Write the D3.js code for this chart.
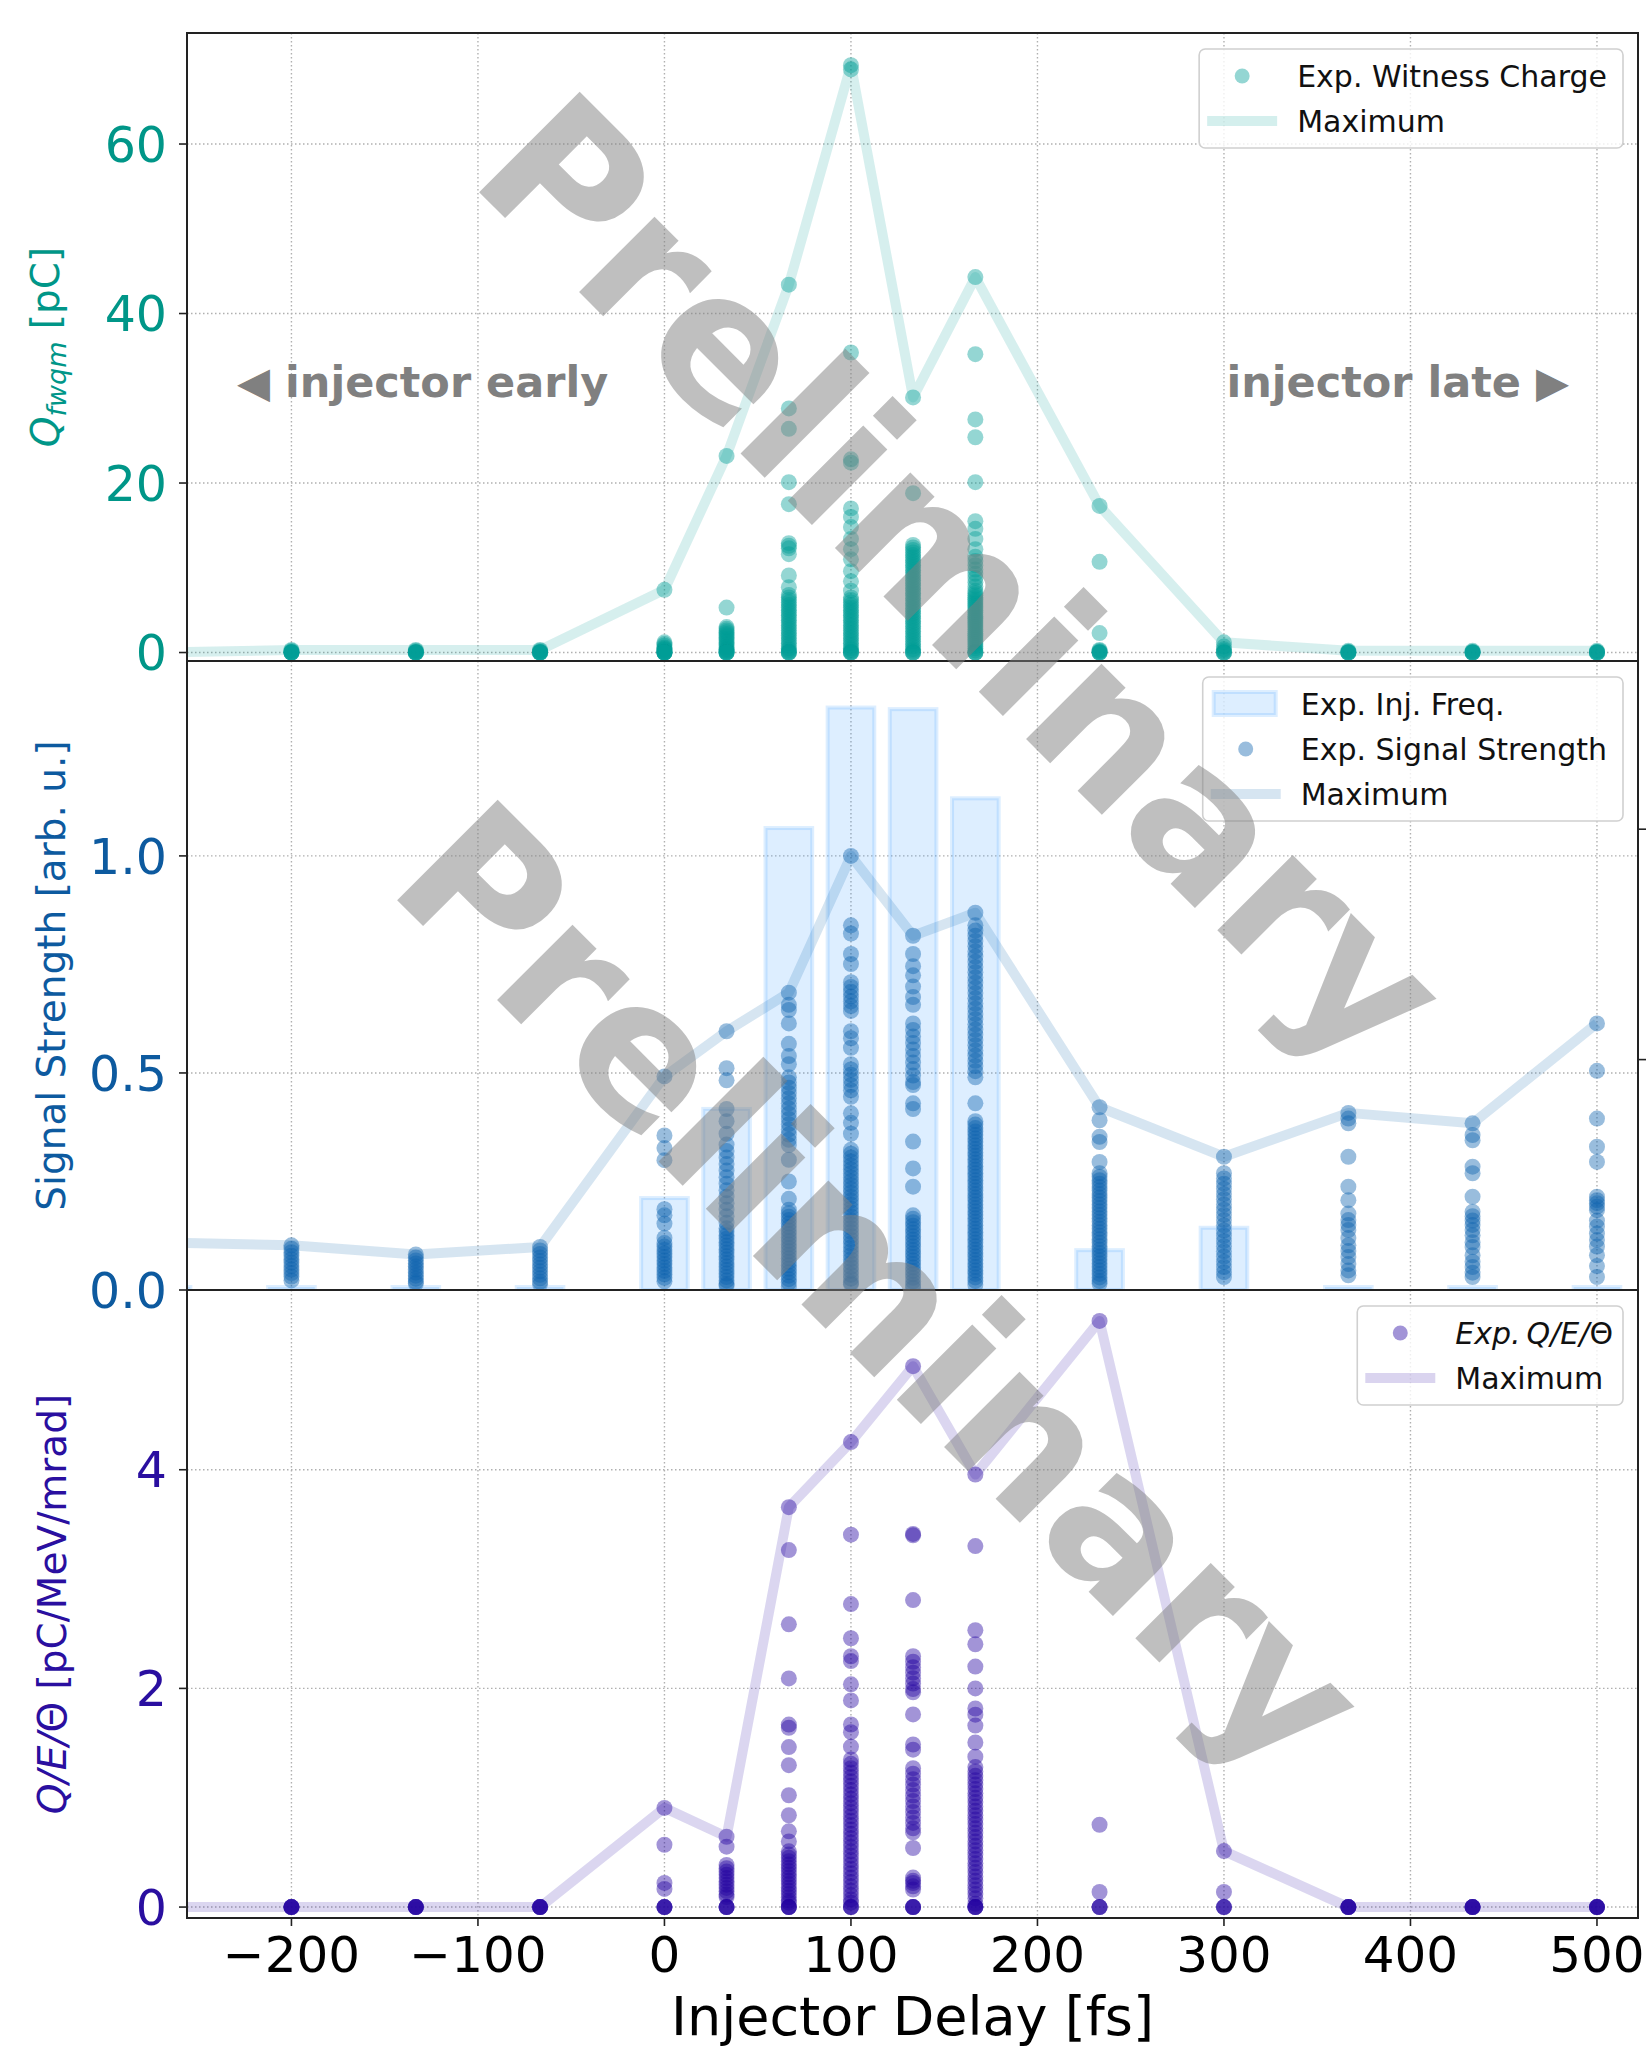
<!doctype html>
<html lang="en">
<head>
<meta charset="utf-8">
<title>Injector delay scan</title>
<style>
  body { margin: 0; background: #fff; }
  svg { display: block; font-family: "DejaVu Sans", sans-serif; }
</style>
</head>
<body>
<script src="https://cdn.jsdelivr.net/npm/d3@7/dist/d3.min.js"></script>
<script>

// delay steps in fs (the first one sits just left of the visible range)
var delays = [-266.7, -200, -133.3, -66.7, 0, 33.3, 66.7, 100, 133.3, 166.7, 233.3, 300, 366.7, 433.3, 500];

// witness charge per shot [pC], one list per delay
var chargeShots = [
  [0],
  [0.3, 0.2, 0.1, 0, 0, 0, 0, 0],
  [0.3, 0.2, 0.1, 0, 0, 0, 0, 0],
  [0.3, 0.2, 0.1, 0, 0, 0, 0, 0],
  [7.4, 1.2, 1.0, 0.8, 0.6, 0.5, 0.4, 0.3, 0.2, 0.1, 0, 0, 0, 0, 0, 0],
  [23.2, 5.3, 3.0, 2.8, 2.6, 2.4, 2.2, 2.0, 1.8, 1.6, 1.4, 1.2, 1.0, 0.8, 0.6, 0.4, 0.3, 0.2, 0.1, 0, 0, 0, 0],
  [43.4, 28.8, 26.4, 20.1, 17.5, 12.9, 12.6, 12.3, 11.6, 9.1, 7.7,
   6.8, 6.5, 6.2, 5.9, 5.6, 5.3, 5.0, 4.7, 4.4, 4.1, 3.8, 3.5, 3.2, 2.9, 2.6, 2.3, 2.0, 1.7, 1.4, 1.1, 0.8, 0.5, 0.3, 0.1, 0, 0, 0],
  [69.3, 68.8, 35.4, 22.8, 22.4, 17.0, 16.0, 14.8, 13.4, 12.2, 11.0, 9.6, 8.4, 7.3,
   6.5, 6.2, 5.9, 5.6, 5.3, 5.0, 4.7, 4.4, 4.1, 3.8, 3.5, 3.2, 2.9, 2.6, 2.3, 2.0, 1.7, 1.4, 1.1, 0.8, 0.5, 0.3, 0.1, 0, 0, 0],
  [30.1, 18.8,
   12.7, 12.4, 12.1, 11.8, 11.5, 11.2, 10.9, 10.6, 10.3, 10.0, 9.7, 9.4, 9.1, 8.8, 8.5, 8.2, 7.9, 7.6, 7.3, 7.0,
   6.7, 6.4, 6.1, 5.8, 5.5, 5.2, 4.9, 4.6, 4.3, 4.0, 3.7, 3.4, 3.1, 2.8, 2.5, 2.2, 1.9, 1.6, 1.3, 1.0, 0.7, 0.4, 0.2, 0, 0, 0],
  [44.3, 35.2, 27.5, 25.4, 20.1, 15.5, 14.6, 13.4, 12.2,
   11.3, 10.8, 10.3, 9.8, 9.3, 8.8, 8.3, 7.8, 7.3, 7.0,
   6.75, 6.5, 6.25, 6.0, 5.75, 5.5, 5.25, 5.0, 4.75, 4.5, 4.25, 4.0, 3.75, 3.5, 3.25, 3.0, 2.75, 2.5, 2.25, 2.0,
   1.75, 1.5, 1.25, 1.0, 0.75, 0.5, 0.25, 0, 0, 0],
  [17.3, 10.7, 2.3, 0.3, 0.2, 0.1, 0, 0, 0],
  [1.2, 0.7, 0.4, 0.2, 0, 0, 0],
  [0.2, 0.1, 0, 0, 0, 0],
  [0.2, 0.1, 0, 0, 0, 0],
  [0.2, 0.1, 0, 0, 0, 0]
];

// signal strength per shot [arb. u.]
var signalShots = [
  [0.109],
  [0.103, 0.095, 0.087, 0.079, 0.071, 0.063, 0.055, 0.047, 0.039, 0.031, 0.022],
  [0.082, 0.075, 0.068, 0.061, 0.054, 0.047, 0.040, 0.033, 0.026, 0.019, 0.015],
  [0.099, 0.091, 0.083, 0.075, 0.067, 0.059, 0.051, 0.043, 0.035, 0.027, 0.019, 0.013],
  [0.492, 0.356, 0.327, 0.299, 0.186, 0.172, 0.153, 0.120,
   0.108, 0.100, 0.092, 0.084, 0.076, 0.068, 0.060, 0.052, 0.044, 0.036, 0.028, 0.020],
  [0.596, 0.511, 0.483, 0.417, 0.389, 0.360,
   0.335, 0.320, 0.305, 0.290, 0.275, 0.260, 0.245, 0.230, 0.215, 0.200, 0.185, 0.170, 0.155,
   0.142, 0.134, 0.126, 0.118, 0.110, 0.102, 0.094, 0.086, 0.078, 0.070, 0.062, 0.054, 0.046, 0.038, 0.030, 0.022, 0.014, 0.010],
  [0.685, 0.657, 0.645, 0.614, 0.567, 0.539, 0.520,
   0.490, 0.478, 0.466, 0.454, 0.442, 0.430, 0.418, 0.406, 0.394, 0.382, 0.370, 0.358, 0.346, 0.334, 0.300, 0.250, 0.210,
   0.185, 0.177, 0.169, 0.161, 0.153, 0.145, 0.137, 0.129, 0.121, 0.113, 0.105, 0.097, 0.089, 0.081, 0.073, 0.065,
   0.057, 0.049, 0.041, 0.033, 0.025, 0.017, 0.008],
  [1.0, 0.840, 0.821, 0.774, 0.751,
   0.709, 0.698, 0.687, 0.676, 0.665, 0.654, 0.643, 0.596, 0.580, 0.558,
   0.520, 0.508, 0.496, 0.484, 0.472, 0.460, 0.445, 0.407, 0.385, 0.360,
   0.323, 0.314, 0.305, 0.296, 0.287, 0.278, 0.269, 0.260, 0.251, 0.242, 0.233, 0.224, 0.215, 0.206, 0.197, 0.188,
   0.179, 0.170, 0.161, 0.152, 0.143, 0.134, 0.125, 0.116, 0.107, 0.098, 0.089, 0.080, 0.071, 0.062, 0.053, 0.044,
   0.035, 0.026, 0.017, 0.013],
  [0.816, 0.774, 0.746, 0.725, 0.699, 0.675, 0.657,
   0.614, 0.599, 0.584, 0.569, 0.554, 0.539, 0.524, 0.509, 0.494, 0.479, 0.472, 0.430, 0.417, 0.342, 0.280, 0.238,
   0.172, 0.164, 0.156, 0.148, 0.140, 0.132, 0.124, 0.116, 0.108, 0.100, 0.092, 0.084, 0.076, 0.068, 0.060, 0.052,
   0.044, 0.036, 0.028, 0.020, 0.012, 0.005],
  [0.869, 0.840, 0.828, 0.816, 0.804, 0.792, 0.780, 0.768, 0.756, 0.744, 0.732, 0.720, 0.708, 0.696, 0.684, 0.672,
   0.660, 0.648, 0.636, 0.624, 0.612, 0.600, 0.588, 0.576, 0.564, 0.552, 0.540, 0.528, 0.516, 0.504, 0.490, 0.430,
   0.389, 0.381, 0.373, 0.365, 0.357, 0.349, 0.341, 0.333, 0.325, 0.317, 0.309, 0.301, 0.293, 0.285, 0.277, 0.269,
   0.261, 0.253, 0.245, 0.237, 0.229, 0.221, 0.213, 0.205, 0.197, 0.189, 0.181, 0.173, 0.165, 0.157, 0.149, 0.141,
   0.133, 0.125, 0.117, 0.109, 0.101, 0.093, 0.085, 0.077, 0.069, 0.061, 0.053, 0.045, 0.037, 0.029, 0.021, 0.012],
  [0.421, 0.391, 0.353, 0.341, 0.295,
   0.269, 0.261, 0.253, 0.245, 0.237, 0.229, 0.221, 0.213, 0.205, 0.197, 0.189, 0.181, 0.173, 0.165, 0.157, 0.149,
   0.141, 0.133, 0.125, 0.117, 0.109, 0.101, 0.093, 0.085, 0.077, 0.069, 0.061, 0.053, 0.045, 0.037, 0.029, 0.021, 0.015],
  [0.307, 0.269, 0.257, 0.245, 0.233, 0.221, 0.209, 0.197, 0.185, 0.173, 0.161, 0.149, 0.137, 0.125, 0.113, 0.101,
   0.089, 0.077, 0.065, 0.053, 0.041, 0.030],
  [0.408, 0.395, 0.384, 0.307, 0.238, 0.207, 0.176, 0.161, 0.150, 0.138, 0.120, 0.103, 0.090, 0.076, 0.060, 0.045, 0.034],
  [0.384, 0.357, 0.345, 0.284, 0.269, 0.215, 0.180, 0.170, 0.160, 0.150, 0.138, 0.126, 0.110, 0.099, 0.080, 0.065, 0.053, 0.040, 0.030],
  [0.614, 0.505, 0.395, 0.330, 0.295, 0.215, 0.207, 0.200, 0.192, 0.184, 0.160, 0.146, 0.130, 0.115, 0.100, 0.080, 0.055, 0.030]
];

// Q/E/Theta per shot [pC/MeV/mrad]
var qetShots = [
  [0],
  [0, 0, 0, 0, 0],
  [0, 0, 0, 0, 0],
  [0, 0, 0, 0, 0],
  [0.907, 0.570, 0.221, 0.166, 0, 0, 0, 0],
  [0.643, 0.552, 0.385, 0.355, 0.325, 0.295, 0.265, 0.235, 0.205, 0.175, 0.145, 0.115, 0.092, 0, 0, 0, 0],
  [3.658, 3.265, 2.586, 2.091, 1.669, 1.640, 1.463, 1.298, 1.023, 0.840, 0.693, 0.600,
   0.510, 0.480, 0.450, 0.420, 0.390, 0.360, 0.330, 0.300, 0.270, 0.240, 0.210, 0.180, 0.150, 0.120, 0.090, 0.060, 0.040,
   0, 0, 0, 0],
  [4.253, 3.406, 2.771, 2.459, 2.294, 2.250, 2.037, 1.890, 1.670, 1.600, 1.467,
   1.350, 1.310, 1.270, 1.230, 1.190, 1.150, 1.110, 1.070, 1.030, 0.990, 0.950, 0.910, 0.870, 0.830, 0.790, 0.750,
   0.710, 0.670, 0.630, 0.590, 0.550, 0.510, 0.470, 0.430, 0.390, 0.350, 0.310, 0.270, 0.230, 0.190, 0.150, 0.110,
   0.070, 0.040, 0, 0, 0],
  [4.947, 3.413, 3.400, 2.808, 2.294, 2.244, 2.194, 2.144, 2.094, 2.044, 1.994, 1.964, 1.762, 1.487, 1.440,
   1.270, 1.220, 1.170, 1.120, 1.070, 1.020, 0.970, 0.920, 0.870, 0.820, 0.770, 0.720, 0.684, 0.540,
   0.270, 0.240, 0.220, 0.190, 0.160, 0, 0, 0, 0],
  [3.956, 3.302, 2.532, 2.404, 2.200, 2.000, 1.816, 1.760, 1.660, 1.505, 1.376,
   1.280, 1.240, 1.200, 1.160, 1.120, 1.080, 1.040, 1.000, 0.960, 0.920, 0.880, 0.840, 0.800, 0.760, 0.720, 0.680,
   0.640, 0.600, 0.560, 0.520, 0.480, 0.440, 0.400, 0.360, 0.320, 0.280, 0.240, 0.200, 0.160, 0.120, 0.080, 0.030,
   0, 0, 0, 0],
  [5.361, 0.753, 0.138, 0, 0, 0],
  [0.512, 0.138, 0, 0, 0],
  [0, 0, 0, 0, 0],
  [0, 0, 0, 0, 0],
  [0, 0, 0, 0, 0]
];

// injection frequency per delay (right axis of the middle panel)
var injFreq = [0.013, 0.013, 0.013, 0.013, 0.399, 0.786, 2.005, 2.528, 2.521, 2.134, 0.173, 0.270, 0.013, 0.013, 0.013];

var xTicks = [-200, -100, 0, 100, 200, 300, 400, 500];
var chargeTicks = [0, 20, 40, 60];
var signalTicks = [0.0, 0.5, 1.0];
var qetTicks = [0, 2, 4];
var freqTicks = [1, 2];


var W = 1646, H = 2049;
var left = 187, right = 1638;

var svg = d3.select("body").append("svg")
  .attr("width", W)
  .attr("height", H);

var x = d3.scaleLinear().domain([-256, 522]).range([left, right]);

var panels = [
  { id: "charge", top: 33, bottom: 661, domain: [-1, 73.1], ticks: chargeTicks, shots: chargeShots,
    color: "#009e96", tickColor: "#009688", fmt: d3.format("d"), labelX: 59,
    legend: [{ type: "dot", text: "Exp. Witness Charge" }, { type: "line", text: "Maximum" }] },
  { id: "signal", top: 661, bottom: 1290, domain: [0, 1.449], ticks: signalTicks, shots: signalShots,
    color: "#0b62ad", tickColor: "#0d5a9f", fmt: d3.format(".1f"), labelX: 65,
    legend: [{ type: "bar", text: "Exp. Inj. Freq." }, { type: "dot", text: "Exp. Signal Strength" }, { type: "line", text: "Maximum" }] },
  { id: "qet", top: 1290, bottom: 1918, domain: [-0.1, 5.644], ticks: qetTicks, shots: qetShots,
    color: "#2200a0", tickColor: "#2a0fa0", fmt: d3.format("d"), labelX: 66,
    legend: [{ type: "dot", text: "qet" }, { type: "line", text: "Maximum" }] }
];

var barColor = "#1e90ff";

// flatten shots into points
function points(shots) {
  var out = [];
  shots.forEach(function(list, i) {
    list.forEach(function(v) { out.push({ d: delays[i], v: v }); });
  });
  return out;
}

panels.forEach(function(p) {
  var y = d3.scaleLinear().domain(p.domain).range([p.bottom, p.top]);
  p.y = y;

  svg.append("clipPath").attr("id", "clip-" + p.id)
    .append("rect")
    .attr("x", left).attr("y", p.top)
    .attr("width", right - left).attr("height", p.bottom - p.top);

  // grid
  var grid = svg.append("g")
    .attr("stroke", "#b0b0b0")
    .attr("stroke-width", 1.4)
    .attr("stroke-dasharray", "1.5,2.5");
  grid.selectAll(".gx").data(xTicks).enter().append("line")
    .attr("x1", function(d){ return x(d); }).attr("x2", function(d){ return x(d); })
    .attr("y1", p.top).attr("y2", p.bottom);
  grid.selectAll(".gy").data(p.ticks).enter().append("line")
    .attr("x1", left).attr("x2", right)
    .attr("y1", function(d){ return y(d); }).attr("y2", function(d){ return y(d); });

  var g = svg.append("g").attr("clip-path", "url(#clip-" + p.id + ")");

  if (p.id === "signal") {
    var yF = d3.scaleLinear().domain([0, 2.73]).range([p.bottom, p.top]);
    p.yF = yF;
    g.selectAll(".bar").data(injFreq).enter().append("rect")
      .attr("x", function(d, i){ return x(delays[i] - 12.5); })
      .attr("width", function(d, i){ return x(delays[i] + 12.5) - x(delays[i] - 12.5); })
      .attr("y", function(d){ return yF(d); })
      .attr("height", function(d){ return p.bottom - yF(d); })
      .attr("fill", barColor).attr("fill-opacity", 0.15)
      .attr("stroke", barColor).attr("stroke-opacity", 0.15)
      .attr("stroke-width", 4);
  }

  // maximum line
  var maxima = p.shots.map(function(list, i){ return { d: delays[i], v: d3.max(list) }; });
  var line = d3.line()
    .x(function(d){ return x(d.d); })
    .y(function(d){ return y(d.v); });
  g.append("path")
    .datum(maxima)
    .attr("d", line)
    .attr("fill", "none")
    .attr("stroke", p.color)
    .attr("stroke-opacity", p.id === "signal" ? 0.17 : 0.16)
    .attr("stroke-width", 10)
    .attr("stroke-linejoin", "round");

  g.selectAll(".dot").data(points(p.shots)).enter().append("circle")
    .attr("cx", function(d){ return x(d.d); })
    .attr("cy", function(d){ return y(d.v); })
    .attr("r", 8)
    .attr("fill", p.color)
    .attr("fill-opacity", 0.42);

  // left ticks
  var ax = svg.append("g");
  ax.selectAll(".tk").data(p.ticks).enter().append("line")
    .attr("x1", left - 8).attr("x2", left)
    .attr("y1", function(d){ return y(d); }).attr("y2", function(d){ return y(d); })
    .attr("stroke", "#222").attr("stroke-width", 1.6);
  ax.selectAll(".tl").data(p.ticks).enter().append("text")
    .attr("x", 167)
    .attr("y", function(d){ return y(d); })
    .attr("dy", "0.36em")
    .attr("text-anchor", "end")
    .attr("font-size", 49)
    .attr("fill", p.tickColor)
    .text(p.fmt);

  if (p.id === "signal") {
    ax.selectAll(".rt").data(freqTicks).enter().append("line")
      .attr("x1", right).attr("x2", right + 8)
      .attr("y1", function(d){ return p.yF(d); }).attr("y2", function(d){ return p.yF(d); })
      .attr("stroke", "#222").attr("stroke-width", 1.6);
  }

  // y label
  var lab = svg.append("text")
    .attr("transform", "translate(" + p.labelX + "," + ((p.top + p.bottom) / 2) + ") rotate(-90)")
    .attr("text-anchor", "middle")
    .attr("font-size", 39)
    .attr("fill", p.tickColor);
  if (p.id === "charge") {
    lab.append("tspan").attr("font-style", "italic").text("Q");
    lab.append("tspan").attr("font-style", "italic").attr("font-size", 27).attr("dy", 7).text("fwqm");
    lab.append("tspan").attr("dy", -7).text(" [pC]");
  } else if (p.id === "signal") {
    lab.text("Signal Strength [arb. u.]");
  } else {
    lab.append("tspan").attr("font-style", "italic").text("Q/E/");
    lab.append("tspan").text("\u0398 [pC/MeV/mrad]");
  }

  // frame
  svg.append("rect")
    .attr("x", left).attr("y", p.top)
    .attr("width", right - left).attr("height", p.bottom - p.top)
    .attr("fill", "none").attr("stroke", "#222").attr("stroke-width", 2);

  // legend
  var lg = svg.append("g");
  var box = lg.append("rect")
    .attr("y", p.top + 16)
    .attr("rx", 6)
    .attr("fill", "#fff").attr("fill-opacity", 0.8)
    .attr("stroke", "#d0d0d0").attr("stroke-width", 1.6);
  var texts = [];
  var items = lg.append("g");
  p.legend.forEach(function(it, k) {
    var cy = p.top + 16 + 27 + k * 45;
    var ig = items.append("g");
    if (it.type === "dot") {
      ig.append("circle").attr("cx", 43).attr("cy", cy).attr("r", 7.5)
        .attr("fill", p.color).attr("fill-opacity", 0.42);
    } else if (it.type === "line") {
      ig.append("line").attr("x1", 8).attr("x2", 78).attr("y1", cy).attr("y2", cy)
        .attr("stroke", p.color).attr("stroke-opacity", 0.17).attr("stroke-width", 10);
    } else {
      ig.append("rect").attr("x", 11).attr("width", 62).attr("y", cy - 12).attr("height", 23)
        .attr("fill", barColor).attr("fill-opacity", 0.15)
        .attr("stroke", barColor).attr("stroke-opacity", 0.15).attr("stroke-width", 4);
    }
    var t = ig.append("text").attr("x", 98).attr("y", cy).attr("dy", "0.36em")
      .attr("font-size", 30).attr("fill", "#111");
    if (it.text === "qet") {
      t.append("tspan").attr("font-style", "italic").text("Exp.");
      t.append("tspan").attr("font-style", "italic").attr("dx", 6).text("Q/E/");
      t.append("tspan").text("\u0398");
    } else {
      t.text(it.text);
    }
    texts.push(t);
  });
  var tw = d3.max(texts, function(t){ return t.node().getComputedTextLength(); });
  var bw = 98 + tw + 16;
  var bx = right - 15 - bw;
  box.attr("x", bx).attr("width", bw)
    .attr("height", 27 * 2 + (p.legend.length - 1) * 45);
  items.attr("transform", "translate(" + bx + ",0)");
});

// x axis on the bottom panel
var last = panels[2];
var xa = svg.append("g");
xa.selectAll(".xt").data(xTicks).enter().append("line")
  .attr("x1", function(d){ return x(d); }).attr("x2", function(d){ return x(d); })
  .attr("y1", last.bottom).attr("y2", last.bottom + 8)
  .attr("stroke", "#222").attr("stroke-width", 1.6);
xa.selectAll(".xl").data(xTicks).enter().append("text")
  .attr("x", function(d){ return x(d); })
  .attr("y", 1972)
  .attr("text-anchor", "middle")
  .attr("font-size", 50)
  .attr("fill", "#000")
  .text(d3.format("d"));

svg.append("text")
  .attr("x", (left + right) / 2)
  .attr("y", 2035)
  .attr("text-anchor", "middle")
  .attr("font-size", 54)
  .attr("fill", "#000")
  .text("Injector Delay [fs]");

// annotations in the top panel
svg.append("text")
  .attr("x", 237).attr("y", 397)
  .attr("font-size", 43).attr("font-weight", "bold").attr("fill", "#808080")
  .text("\u25C0 injector early");
svg.append("text")
  .attr("x", 1569).attr("y", 397)
  .attr("text-anchor", "end")
  .attr("font-size", 43).attr("font-weight", "bold").attr("fill", "#808080")
  .text("injector late \u25B6");

// watermarks
[[915, 628], [833, 1336]].forEach(function(c) {
  svg.append("text")
    .attr("transform", "translate(" + c[0] + "," + c[1] + ") rotate(45)")
    .attr("text-anchor", "middle")
    .attr("font-size", 195)
    .attr("font-weight", "bold")
    .attr("fill", "#808080")
    .attr("fill-opacity", 0.5)
    .text("Preliminary");
});

</script>
</body>
</html>
